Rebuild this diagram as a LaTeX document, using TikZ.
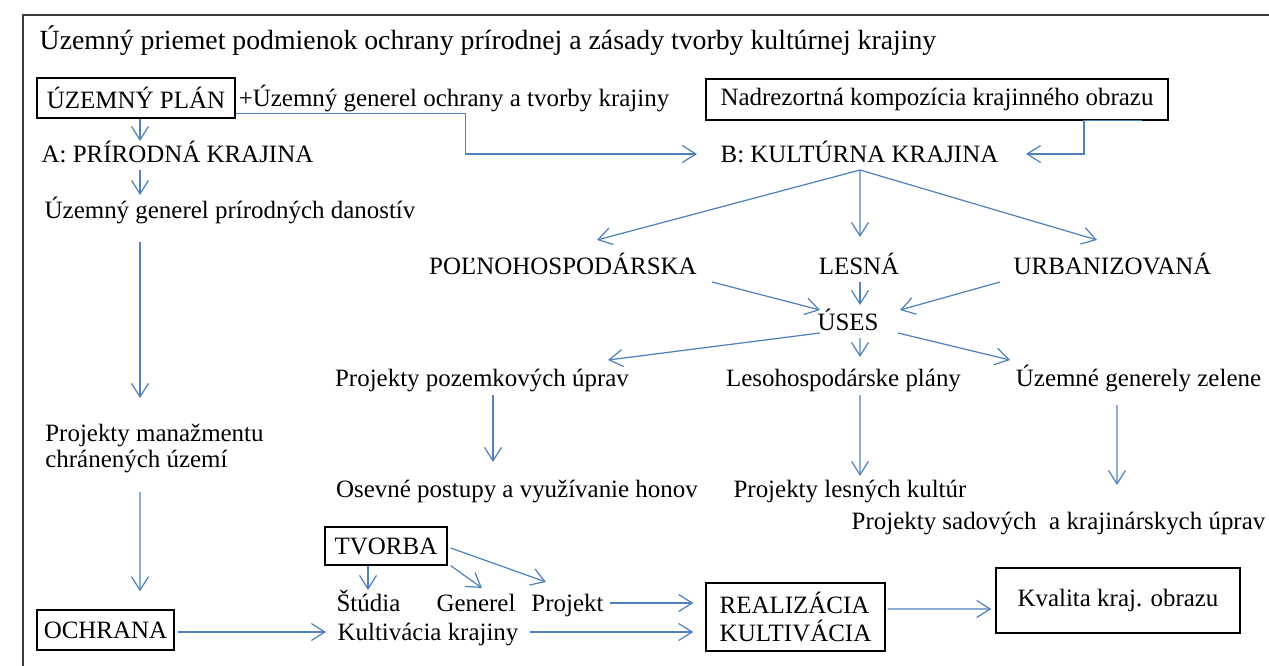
\documentclass[tikz,border=0pt]{standalone}
\usepackage{fontspec}
\setmainfont{Liberation Serif}
\usetikzlibrary{arrows.meta}
\definecolor{linkblue}{RGB}{79, 129, 189}
\definecolor{framegray}{RGB}{60, 60, 60}

\tikzset{
  arr/.style={draw=linkblue, line width=0.7pt, -{Straight Barb[length=0.27cm, width=0.34cm]}},
  lbl/.style={inner sep=0pt, anchor=base},
  box/.style={draw=black, line width=0.8pt, inner sep=0pt},
}

\begin{document}
\begin{tikzpicture}[x=0.02cm, y=-0.02cm, font=\fontsize{14.2}{16}\selectfont]
  \useasboundingbox (0,0) rectangle (1269,666);
  % frame
  \draw[framegray, line width=0.8pt] (23,666) -- (23,15) -- (1269,15);

  \node[lbl, font=\fontsize{15.8}{18}\selectfont] (title) at (488,50) {Územný priemet podmienok ochrany prírodnej a zásady tvorby kultúrnej krajiny};

  % top row
  \node[box, minimum width=3.96cm, minimum height=0.8cm] (plan) at (136,98) {ÚZEMNÝ PLÁN};
  \node[lbl] (plus) at (454,106) {+Územný generel ochrany a tvorby krajiny};
  \node[box, minimum width=9.24cm, minimum height=0.82cm] (nadr) at (937,99.5) {Nadrezortná kompozícia krajinného obrazu};

  % left column
  \node[lbl] (prirodna) at (177.5,162) {A: PRÍRODNÁ KRAJINA};
  \node[lbl] (generelA) at (230,218) {Územný generel prírodných danostív};
  \node[inner sep=0pt, anchor=north west, align=left, font=\fontsize{14.2}{14.7}\selectfont] (manazment) at (45,424)
       {Projekty manažmentu\\chránených území};
  \node[box, minimum width=2.74cm, minimum height=0.8cm] (ochrana) at (105.5,630) {OCHRANA};

  % cultural landscape
  \node[lbl] (kulturna) at (859.5,162) {B: KULTÚRNA KRAJINA};
  \node[lbl] (pol) at (563,274) {POĽNOHOSPODÁRSKA};
  \node[lbl] (lesna) at (859,274) {LESNÁ};
  \node[lbl] (urban) at (1112.5,274) {URBANIZOVANÁ};
  \node[lbl] (uses) at (848,330) {ÚSES};
  \node[lbl] (pozemk) at (482,386) {Projekty pozemkových úprav};
  \node[lbl] (lesohosp) at (843.5,386) {Lesohospodárske plány};
  \node[lbl] (zelen) at (1138.5,386) {Územné generely zelene};
  \node[lbl] (osev) at (517,497) {Osevné postupy a využívanie honov};
  \node[lbl] (leskult) at (850,497) {Projekty lesných kultúr};
  \node[lbl] (sad) at (1058.5,529) {Projekty sadových\ \ a krajinárskych úprav};

  % bottom row
  \node[box, minimum width=2.44cm, minimum height=0.76cm] (tvorba) at (386,546) {TVORBA};
  \node[lbl] (studia) at (368.5,611) {Štúdia};
  \node[lbl] (generel) at (476,611) {Generel};
  \node[lbl] (projekt) at (567.5,611) {Projekt};
  \node[lbl] (kultiv) at (428,640) {Kultivácia krajiny};
  \node[box, minimum width=3.58cm, minimum height=1.36cm, align=left, font=\fontsize{14.2}{16.4}\selectfont] (realiz) at (795.5,617)
       {REALIZÁCIA\\KULTIVÁCIA};
  \node[box, minimum width=4.88cm, minimum height=1.3cm] (kvalita) at (1118,600.5) {Kvalita kraj. obrazu};

  % connectors
  \draw[arr] ([shift={(4,0)}]plan.south) -- ([shift={(-37.5,-21)}]prirodna.base);
  \draw[arr] ([shift={(-37.5,8)}]prirodna.base) -- ([shift={(-90,-23)}]generelA.base);
  \draw[arr] ([shift={(-90,24)}]generelA.base) -- ([shift={(95,-26)}]manazment.north west);
  \draw[arr] ([shift={(95,68)}]manazment.north west) -- ([shift={(34.5,-18)}]ochrana.north);
  \draw[arr] ([shift={(3,2)}]ochrana.east) -- ([shift={(-102,-8)}]kultiv.base);
  \draw[arr] ([shift={(0,-5)}]plan.south east) -- ++(230,0) |- ([shift={(-162.5,-8)}]kulturna.base);
  \draw[arr] ([shift={(205,0)}]nadr.south) -- ([shift={(147,0)}]nadr.south) |- ([shift={(166.5,-8)}]kulturna.base);

  \draw[arr] ([shift={(0.5,8)}]kulturna.base) -- ([shift={(34,-34)}]pol.base);
  \draw[arr] ([shift={(0.5,8)}]kulturna.base) -- ([shift={(1,-37)}]lesna.base);
  \draw[arr] ([shift={(0.5,8)}]kulturna.base) -- ([shift={(-15.5,-34)}]urban.base);
  \draw[arr] ([shift={(149,8)}]pol.base) -- ([shift={(-28,-20)}]uses.base);
  \draw[arr] ([shift={(1,8)}]lesna.base) -- ([shift={(12,-25)}]uses.base);
  \draw[arr] ([shift={(-112.5,8)}]urban.base) -- ([shift={(52,-20)}]uses.base);
  \draw[arr] ([shift={(-28,3)}]uses.base) -- ([shift={(126,-26)}]pozemk.base);
  \draw[arr] ([shift={(12,8)}]uses.base) -- ([shift={(16.5,-29)}]lesohosp.base);
  \draw[arr] ([shift={(50,3)}]uses.base) -- ([shift={(-128.5,-26)}]zelen.base);
  \draw[arr] ([shift={(11,9)}]pozemk.base) -- ([shift={(-24,-35)}]osev.base);
  \draw[arr] ([shift={(16.5,9)}]lesohosp.base) -- ([shift={(10,-21)}]leskult.base);
  \draw[arr] ([shift={(-21.5,19)}]zelen.base) -- ([shift={(58.5,-44)}]sad.base);

  \draw[arr] ([shift={(-18,0)}]tvorba.south) -- ([shift={(-0.5,-21)}]studia.base);
  \draw[arr] ([shift={(3,0)}]tvorba.south east) -- ([shift={(6,-23)}]generel.base);
  \draw[arr] ([shift={(3,2)}]tvorba.east) -- ([shift={(-21.5,-29)}]projekt.base);
  \draw[arr] ([shift={(42.5,-8)}]projekt.base) -- ([shift={(-12,-14)}]realiz.west);
  \draw[arr] ([shift={(102,-8)}]kultiv.base) -- ([shift={(-12,15)}]realiz.west);
  \draw[arr] ([shift={(2,-8)}]realiz.east) -- ([shift={(-4,8.5)}]kvalita.west);
\end{tikzpicture}
\end{document}
